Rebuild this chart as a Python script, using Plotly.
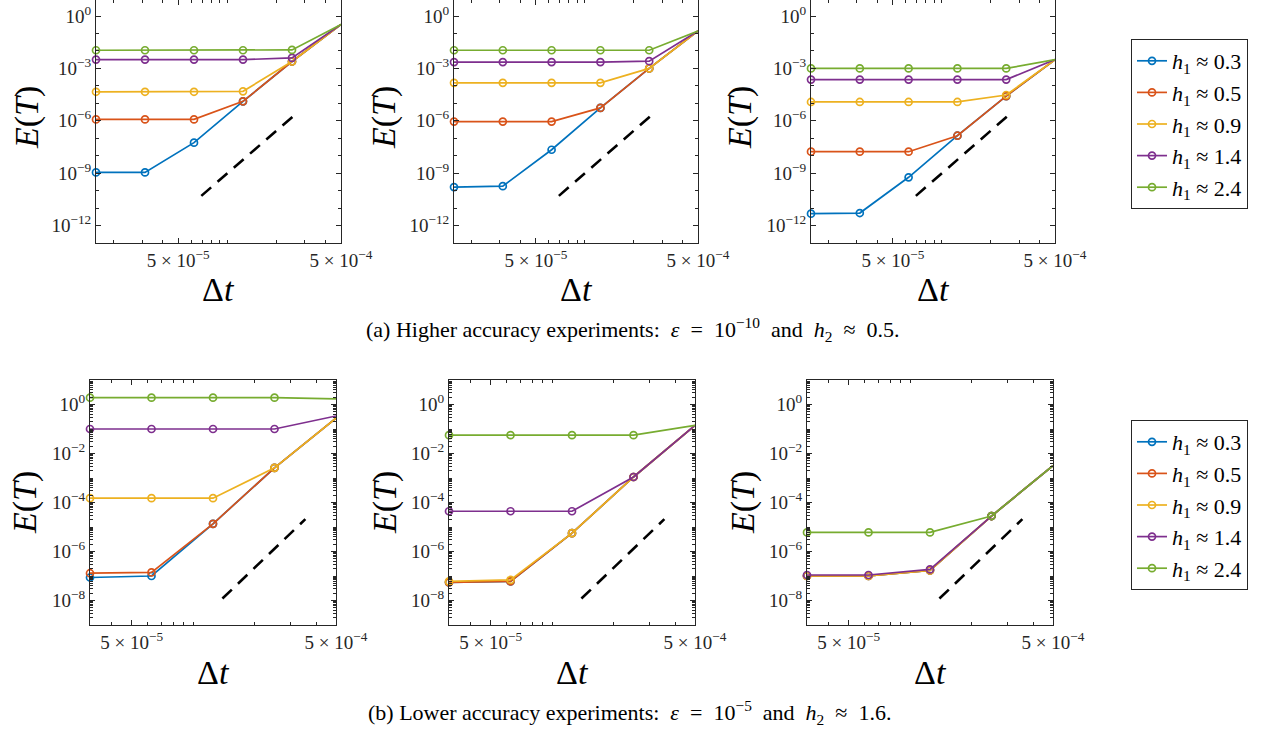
import plotly.graph_objects as go

W, H = 1267, 734
FONT = "Liberation Serif"
AXC = "#262626"

# time steps
dt_a = [1.5625e-5, 3.125e-5, 6.25e-5, 1.25e-4, 2.5e-4, 5e-4]
dt_b = [3.125e-5, 6.25e-5, 1.25e-4, 2.5e-4, 5e-4]

h1_labels = ["0.3", "0.5", "0.9", "1.4", "2.4"]
colors = ["#0072BD", "#D95319", "#EDB120", "#7E2F8E", "#77AC30"]

# (a) higher accuracy experiments, series ordered h1 = 0.3, 0.5, 0.9, 1.4, 2.4
a1 = [
    [1.1e-9, 1.1e-9, 5.6e-8, 1.3e-5, 2.5e-3, 0.33],
    [1.2e-6, 1.2e-6, 1.2e-6, 1.3e-5, 2.5e-3, 0.33],
    [4.6e-5, 4.6e-5, 4.6e-5, 4.9e-5, 2.5e-3, 0.33],
    [3.2e-3, 3.2e-3, 3.2e-3, 3.2e-3, 4.0e-3, 0.33],
    [1.1e-2, 1.1e-2, 1.1e-2, 1.1e-2, 1.15e-2, 0.33],
]
a2 = [
    [1.6e-10, 1.8e-10, 2.2e-8, 5.5e-6, 1.0e-3, 0.14],
    [9.0e-7, 9.0e-7, 9.0e-7, 5.5e-6, 1.0e-3, 0.14],
    [1.5e-4, 1.5e-4, 1.5e-4, 1.5e-4, 1.0e-3, 0.14],
    [2.3e-3, 2.3e-3, 2.3e-3, 2.3e-3, 2.6e-3, 0.14],
    [1.1e-2, 1.1e-2, 1.1e-2, 1.1e-2, 1.1e-2, 0.14],
]
a3 = [
    [4.8e-12, 5.2e-12, 5.8e-10, 1.4e-7, 2.6e-5, 3.2e-3],
    [1.7e-8, 1.7e-8, 1.7e-8, 1.4e-7, 2.6e-5, 3.2e-3],
    [1.2e-5, 1.2e-5, 1.2e-5, 1.2e-5, 3.0e-5, 3.2e-3],
    [2.3e-4, 2.3e-4, 2.3e-4, 2.3e-4, 2.3e-4, 3.2e-3],
    [1.0e-3, 1.0e-3, 1.0e-3, 1.0e-3, 1.0e-3, 3.2e-3],
]
# (b) lower accuracy experiments
b1 = [
    [8.7e-8, 1.0e-7, 1.35e-5, 2.6e-3, 0.28],
    [1.3e-7, 1.4e-7, 1.35e-5, 2.6e-3, 0.28],
    [1.5e-4, 1.5e-4, 1.5e-4, 2.6e-3, 0.28],
    [0.10, 0.10, 0.10, 0.10, 0.34],
    [1.9, 1.9, 1.9, 1.9, 1.7],
]
b2 = [
    [5.5e-8, 6.0e-8, 5.6e-6, 1.1e-3, 0.14],
    [5.5e-8, 6.0e-8, 5.6e-6, 1.1e-3, 0.14],
    [6.0e-8, 6.9e-8, 5.6e-6, 1.1e-3, 0.14],
    [4.4e-5, 4.4e-5, 4.4e-5, 1.1e-3, 0.14],
    [5.6e-2, 5.6e-2, 5.6e-2, 5.6e-2, 0.14],
]
b3 = [
    [1.0e-7, 1.0e-7, 1.7e-7, 2.8e-5, 3.2e-3],
    [1.0e-7, 1.0e-7, 1.7e-7, 2.8e-5, 3.2e-3],
    [1.0e-7, 1.0e-7, 1.7e-7, 2.8e-5, 3.2e-3],
    [1.1e-7, 1.1e-7, 1.85e-7, 2.8e-5, 3.2e-3],
    [6.0e-6, 6.0e-6, 6.0e-6, 2.8e-5, 3.2e-3],
]

# reference slope lines (dashed)
ref_a_x = [6.93e-5, 2.52e-4]
ref_a_y = [5.0e-11, 1.7e-6]
ref_b_x = [1.39e-4, 3.54e-4]
ref_b_y = [1.2e-8, 2.1e-5]

# tick labels
x_tickvals = [5e-5, 5e-4]
x_ticktext = ["5\u00a0×\u00a010<sup>−5</sup>", "5\u00a0×\u00a010<sup>−4</sup>"]
ya_tickvals = [1e-12, 1e-9, 1e-6, 1e-3, 1]
ya_ticktext = ["10<sup>−12</sup>", "10<sup>−9</sup>", "10<sup>−6</sup>", "10<sup>−3</sup>", "10<sup>0</sup>"]
yb_tickvals = [1e-8, 1e-6, 1e-4, 1e-2, 1]
yb_ticktext = ["10<sup>−8</sup>", "10<sup>−6</sup>", "10<sup>−4</sup>", "10<sup>−2</sup>", "10<sup>0</sup>"]

x_minor = [k * 10.0 ** e for e in (-5, -4) for k in range(1, 10)]
ya_minor = [10.0 ** e for e in range(-13, 2)]
yb_minor = [k * 10.0 ** e for e in range(-9, 2) for k in range(1, 10)]

panels = [
    # data, dt, ref_x, ref_y, xdom(px), ydom(px), legend, E(T) offset
    (a1, dt_a, ref_a_x, ref_a_y, (96, 341), (0, 243), "legend", 69),
    (a2, dt_a, ref_a_x, ref_a_y, (454, 698), (0, 243), "legend", 70),
    (a3, dt_a, ref_a_x, ref_a_y, (811, 1055), (0, 243), "legend", 71),
    (b1, dt_b, ref_b_x, ref_b_y, (90, 336), (380, 625), "legend2", 65),
    (b2, dt_b, ref_b_x, ref_b_y, (449, 695), (380, 625), "legend2", 64),
    (b3, dt_b, ref_b_x, ref_b_y, (807, 1053), (380, 625), "legend2", 64),
]

fig = go.Figure()
layout = {}
annotations = []

for i, (data, dt, rx, ry, xd, yd, leg, eoff) in enumerate(panels):
    n = "" if i == 0 else str(i + 1)
    xa, ya = "x" + n, "y" + n
    first = i in (0, 3)
    for j, series in enumerate(data):
        fig.add_trace(go.Scatter(
            x=dt, y=series, xaxis=xa, yaxis=ya, mode="lines+markers",
            line=dict(color=colors[j], width=1.7),
            marker=dict(symbol="circle-open", size=7, color=colors[j], line=dict(width=1.7, color=colors[j])),
            name="<i>h</i><sub>1</sub> ≈ " + h1_labels[j],
            legend=leg, showlegend=first, cliponaxis=False,
        ))
    fig.add_trace(go.Scatter(
        x=rx, y=ry, xaxis=xa, yaxis=ya, mode="lines",
        line=dict(color="black", width=2.6, dash="13px,8.5px"),
        showlegend=False, hoverinfo="skip",
    ))
    top = i < 3
    xr = [-4.80618, -3.30103] if top else [-4.50515, -3.30103]
    yr = [-13, 0.92] if top else [-9, 1]
    common = dict(showline=True, linecolor=AXC, linewidth=1, mirror="allticks",
                  ticks="inside", tickcolor=AXC, tickwidth=1, ticklen=5,
                  showgrid=False, zeroline=False, automargin=False,
                  tickfont=dict(family=FONT, size=19, color=AXC))
    layout["xaxis" + n] = dict(
        type="log", range=xr, anchor=ya,
        domain=[xd[0] / W, xd[1] / W],
        tickmode="array", tickvals=x_tickvals, ticktext=x_ticktext,
        minor=dict(tickmode="array", tickvals=x_minor, ticks="inside", ticklen=3, tickcolor=AXC, showgrid=False),
        **common)
    layout["yaxis" + n] = dict(
        type="log", range=yr, anchor=xa,
        domain=[1 - yd[1] / H, 1 - yd[0] / H],
        tickmode="array",
        tickvals=ya_tickvals if top else yb_tickvals,
        ticktext=ya_ticktext if top else yb_ticktext,
        minor=dict(tickmode="array", tickvals=ya_minor if top else yb_minor,
                   ticks="inside", ticklen=3, tickcolor=AXC, showgrid=False),
        **common)
    # axis titles
    cx = (xd[0] + xd[1]) / 2
    annotations.append(dict(
        text="Δ<i>t</i>", x=cx / W, y=1 - (289 if top else 672) / H,
        xref="paper", yref="paper", showarrow=False,
        xanchor="center", yanchor="middle",
        font=dict(family=FONT, size=34, color="black")))
    annotations.append(dict(
        text="<i>E</i>(<i>T</i>)", x=(xd[0] - eoff) / W, y=1 - (118 if top else 503) / H,
        xref="paper", yref="paper", showarrow=False, textangle=-90,
        xanchor="center", yanchor="middle",
        font=dict(family=FONT, size=34, color="black")))

annotations.append(dict(
    text="(a) Higher accuracy experiments:  <i>ε</i>  =  10<sup>−10</sup>  and  <i>h</i><sub>2</sub>  ≈  0.5.",
    x=633 / W, y=1 - 329 / H, xref="paper", yref="paper", showarrow=False,
    xanchor="center", yanchor="middle",
    font=dict(family=FONT, size=22, color="black")))
annotations.append(dict(
    text="(b) Lower accuracy experiments:  <i>ε</i>  =  10<sup>−5</sup>  and  <i>h</i><sub>2</sub>  ≈  1.6.",
    x=629 / W, y=1 - 712 / H, xref="paper", yref="paper", showarrow=False,
    xanchor="center", yanchor="middle",
    font=dict(family=FONT, size=22, color="black")))

legend_style = dict(
    xanchor="left", yanchor="top", bordercolor=AXC, borderwidth=1, bgcolor="white",
    font=dict(family=FONT, size=22, color="black"), itemwidth=30, tracegroupgap=0,
)

fig.update_layout(
    width=W, height=H, margin=dict(l=0, r=0, t=0, b=0, autoexpand=False),
    paper_bgcolor="white", plot_bgcolor="white",
    annotations=annotations,
    legend=dict(x=1131 / W, y=1 - 39 / H, **legend_style),
    legend2=dict(x=1131 / W, y=1 - 420 / H, **legend_style),
    **layout,
)

fig.write_html(
    "out.html",
    config={"displayModeBar": False},
    post_script="document.body.style.margin='0';document.documentElement.style.overflow='hidden';document.body.style.overflow='hidden';",
)
